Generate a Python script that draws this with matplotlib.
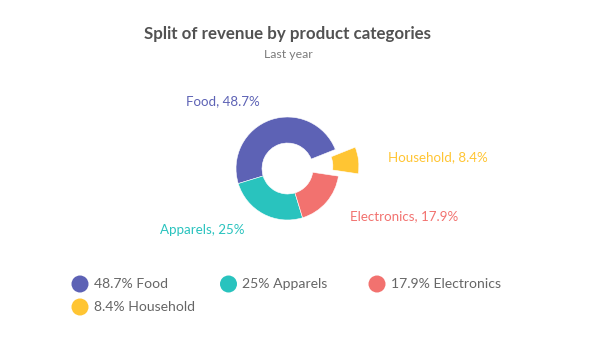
import matplotlib.pyplot as plt

# revenue split (percent)
categories = ["Food", "Apparels", "Electronics", "Household"]
shares = [48.7, 25, 17.9, 8.4]
share_text = ["48.7%", "25%", "17.9%", "8.4%"]
colors = ["#5d62b5", "#29c3be", "#f2726f", "#ffc533"]

W, H = 594, 349
plt.rcParams['font.family'] = ['Lato', 'DejaVu Sans']

fig = plt.figure(figsize=(W / 100, H / 100), dpi=100)
ax = fig.add_axes([0, 0, 1, 1])
ax.set_xlim(0, W)
ax.set_ylim(H, 0)
ax.axis('off')

# pie axes in pixel units, y up so the wedges go counter clockwise
pax = fig.add_axes([0, 0, 1, 1])

cx, cy, R = 287.5, H - 168.5, 51.5
explode = [0, 0, 0, 20]
wedges, _ = pax.pie(shares, colors=colors, radius=R, center=(cx, cy),
                    startangle=21.7, counterclock=True, explode=explode,
                    wedgeprops=dict(width=26, edgecolor='white', linewidth=0.4),
                    frame=True)
pax.set_xlim(0, W)
pax.set_ylim(0, H)
pax.axis('off')

# data labels next to the ring
label_pos = [(186, 101), (160, 230), (350, 216), (388, 157)]
for name, txt, col, (lx, ly) in zip(categories, share_text, colors, label_pos):
    ax.text(lx, ly, f"{name}, {txt}", color=col, fontsize=9.6, ha='left', va='center')

ax.text(288, 34, "Split of revenue by product categories", fontsize=12.2,
        fontweight='bold', color='#525252', ha='center', va='center')
ax.text(288, 55, "Last year", fontsize=8.8, color='#7b7b7b', ha='center', va='center')

# legend, three per row
for i, (name, txt, col) in enumerate(zip(categories, share_text, colors)):
    lx = 80 + 148.5 * (i % 3)
    ly = 284 + 23 * (i // 3)
    ax.scatter([lx], [ly], s=150, color=col, edgecolors='none')
    ax.text(lx + 14, ly, f"{txt} {name}", fontsize=10.1, color='#666666',
            ha='left', va='center')

fig.savefig("out.png", dpi=100, facecolor='white')
